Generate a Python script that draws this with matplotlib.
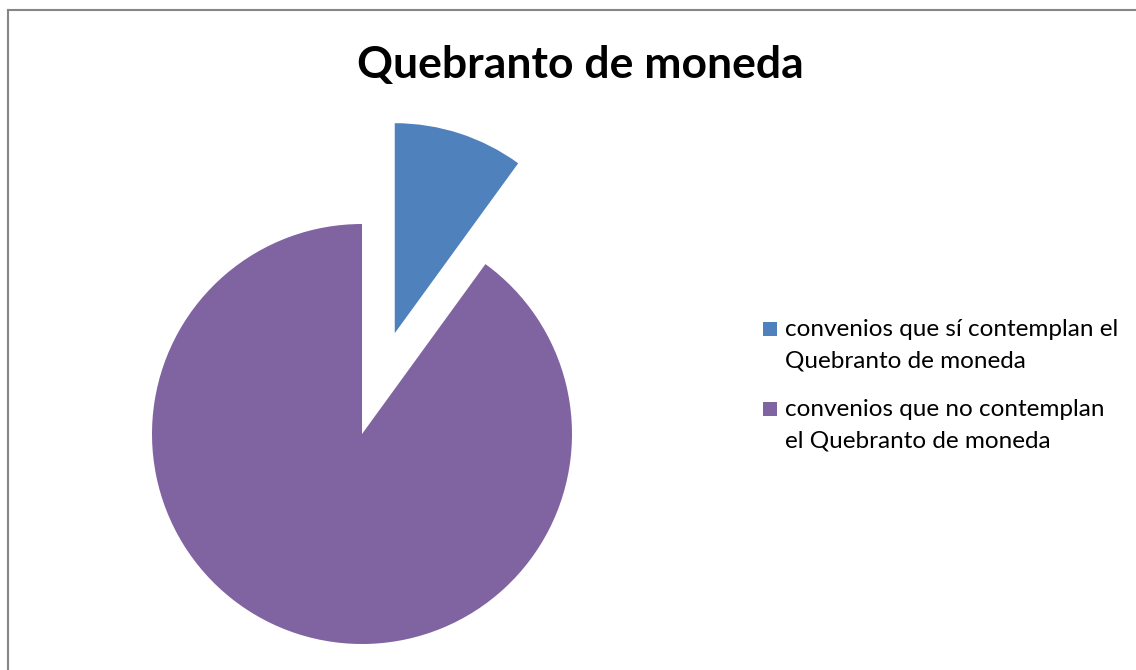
import matplotlib
matplotlib.use("Agg")
import matplotlib.pyplot as plt
from matplotlib.patches import Rectangle
from matplotlib.lines import Line2D

# Data
categories = [
    "convenios que sí contemplan el\nQuebranto de moneda",
    "convenios que no contemplan\nel Quebranto de moneda",
]
values = [10, 90]
colors = ["#4F81BD", "#8064A2"]
title = "Quebranto de moneda"

W, H = 1136, 670
fig = plt.figure(figsize=(W / 100, H / 100), dpi=100)
plt.rcParams["font.family"] = ["Lato", "DejaVu Sans"]

ax = fig.add_axes([0, 0, 1, 1])
ax.pie(values, colors=colors, startangle=90, counterclock=False,
       center=(362, H - 434), radius=210, explode=[106, 0],
       wedgeprops=dict(linewidth=0))

# Axes in pixel-like units so the pie keeps a true circle
ax.set_xlim(0, W)
ax.set_ylim(0, H)
ax.set_aspect("equal")
ax.axis("off")

# Chart frame (top and left edges visible)
ax.add_line(Line2D([8, W + 5], [H - 9.5, H - 9.5], color="#868686", lw=1.5, clip_on=False))
ax.add_line(Line2D([8, 8], [-5, H - 9.5], color="#868686", lw=1.5, clip_on=False))

ax.text(580, H - 78, title, ha="center", va="baseline", fontsize=32,
        fontweight="bold", color="black")

# Legend: square marker plus wrapped label, one baseline per line
leg_base = [H - 336, H - 416]
line_step = 31.5
for c, lab, y in zip(colors, categories, leg_base):
    ax.add_patch(Rectangle((763, y), 14, 14, facecolor=c, edgecolor="none"))
    for i, line in enumerate(lab.split("\n")):
        ax.text(785, y - i * line_step, line, ha="left", va="baseline",
                fontsize=17.5, color="black")

fig.savefig("out.png", dpi=100)
